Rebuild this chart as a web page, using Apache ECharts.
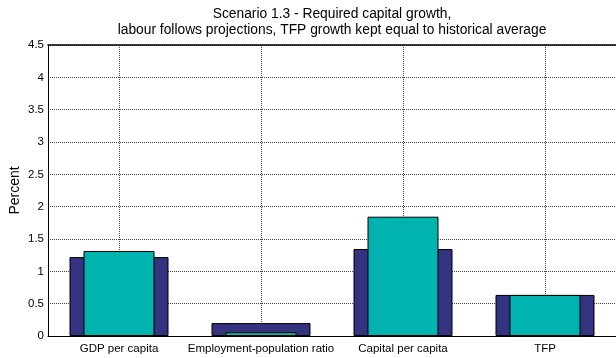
<!DOCTYPE html>
<html>
<head>
<meta charset="utf-8">
<script src="https://cdn.jsdelivr.net/npm/echarts@6/dist/echarts.min.js"></script>
<style>
  html, body { margin: 0; padding: 0; background: #fff; }
  #chart { width: 616px; height: 358px; }
</style>
</head>
<body>
<div id="chart"></div>
<script>
// categories and series values
const categories = ['GDP per capita', 'Employment-population ratio', 'Capital per capita', 'TFP'];
const wideValues = [1.22, 0.20, 1.345, 0.635];   // dark blue, wide bars
const narrowValues = [1.315, 0.06, 1.845, 0.635]; // teal, narrow bars
const yTicks = ['0', '0.5', '1', '1.5', '2', '2.5', '3', '3.5', '4', '4.5'];

const chart = echarts.init(document.getElementById('chart'));

const font = 'Liberation Sans, Arial, sans-serif';

const option = {
  animation: false,
  title: {
    text: 'Scenario 1.3 - Required capital growth,\nlabour follows projections, TFP growth kept equal to historical average',
    left: 327,
    textAlign: 'center',
    top: 1,
    textStyle: {
      fontFamily: font,
      fontSize: 13.8,
      fontWeight: 'normal',
      color: '#000',
      lineHeight: 16
    }
  },
  grid: {
    left: 48,
    right: 0,
    top: 45,
    bottom: 22,
    outerBoundsMode: 'none',
    show: false
  },
  xAxis: [{
    type: 'category',
    data: categories,
    axisLine: { lineStyle: { color: '#000', width: 1 } },
    axisTick: { show: false },
    axisLabel: {
      color: '#000',
      fontFamily: font,
      fontSize: 11.5,
      margin: 7,
      interval: 0
    },
    splitLine: {
      show: true,
      alignWithLabel: true,
      lineStyle: { color: '#444', type: [1, 1], width: 1 }
    }
  }, {
    // top frame line, also carries the narrow bars so they centre on the same slots
    type: 'category',
    position: 'top',
    data: categories,
    axisLine: { show: true, lineStyle: { color: '#000', width: 1.5 } },
    axisTick: { show: false },
    axisLabel: { show: false },
    splitLine: { show: false }
  }],
  yAxis: {
    type: 'value',
    min: 0,
    max: 4.5,
    interval: 0.5,
    name: 'Percent',
    nameLocation: 'middle',
    nameGap: 26,
    nameMoveOverlap: false,
    nameTextStyle: { color: '#000', fontFamily: font, fontSize: 14 },
    axisLine: { show: true, lineStyle: { color: '#000', width: 1 } },
    axisTick: { show: false },
    axisLabel: {
      color: '#000',
      fontFamily: font,
      fontSize: 11.5,
      margin: 4,
      formatter: function (v) {
        const i = Math.round(v / 0.5);
        return yTicks[i] !== undefined ? yTicks[i] : '';
      }
    },
    splitLine: {
      show: true,
      lineStyle: { color: '#444', type: [1, 1], width: 1 }
    }
  },
  series: [{
    name: 'wide',
    type: 'bar',
    xAxisIndex: 0,
    data: wideValues,
    barWidth: 99,
    itemStyle: { color: '#333380', borderColor: '#000', borderWidth: 1 }
  }, {
    name: 'narrow',
    type: 'bar',
    xAxisIndex: 1,
    data: narrowValues,
    barWidth: 71,
    itemStyle: { color: '#00B3AE', borderColor: '#000', borderWidth: 1 }
  }]
};

chart.setOption(option);
</script>
</body>
</html>
